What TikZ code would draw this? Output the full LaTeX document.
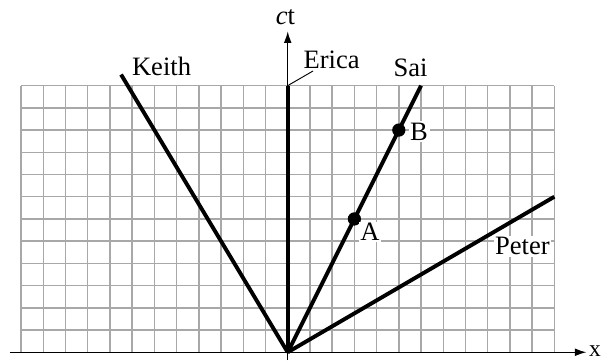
\documentclass[tikz,border=0pt]{standalone}
\usepackage{fontspec}
\setmainfont{Liberation Serif}
\usetikzlibrary{arrows.meta,positioning}
\definecolor{gridgray}{HTML}{A8A8A8}

\begin{document}
\begin{tikzpicture}[x=0.5cm, y=0.5cm,
    every node/.style={font=\fontsize{17}{20}\selectfont, inner sep=1pt},
    worldline/.style={line width=2.5pt},
    axisline/.style={line width=0.9pt, -{Latex[length=7.5pt,width=5pt]}},
    event/.style={circle, fill=black, minimum size=8.5pt, inner sep=0pt},
    tag/.style={anchor=base west, fill=white}]
        \useasboundingbox (-12.95,-0.39) rectangle (14.37,15.855);
        \draw[gridgray, line width=0.9pt, step=0.5cm] (-12,0) grid (12,12);
        \coordinate (O) at (0,0);
        \coordinate (xstart) at (-12.5,0);
        \coordinate (xend) at (13.45,0);
        \coordinate (tstart) at (0,-0.35);
        \coordinate (tend) at (0,14.45);
        \coordinate (keith) at (-7.5,12.5);
        \coordinate (erica) at (0,12);
        \coordinate (sai) at (6,12);
        \coordinate (peter) at (12,7);
        \coordinate (ericatag) at (1.14,12.66);
        \draw[axisline] (xstart)--(xend);
        \draw[axisline] (tstart)--(tend);
        \draw[worldline] (O)--(keith);
        \draw[worldline] (O)--(erica);
        \draw[worldline] (O)--(sai);
        \draw[worldline] (O)--(peter);
        \draw[line width=0.6pt] (erica)--(ericatag);
        \node[event] (A) at (3,6) {};
        \node[event] (B) at (5,10) {};
        \node[anchor=base] (tlab) at (-0.1,14.73) {\textit{c}t};
        \node[anchor=west, inner sep=0pt, font=\fontsize{15}{18}\selectfont] (xlab) at (13.55,0.05) {x};
        \node[anchor=base west] (keithlab) at (-7.09,12.44) {Keith};
        \node[anchor=base west] (ericalab) at (0.63,12.78) {Erica};
        \node[anchor=base west] (sailab) at (4.68,12.4) {Sai};
        \node[tag] (peterlab) at (9.25,4.38) {Peter};
        \node[tag] (alab) at (3.18,5.02) {A};
        \node[tag] (blab) at (5.43,9.55) {B};
      \end{tikzpicture}
\end{document}
